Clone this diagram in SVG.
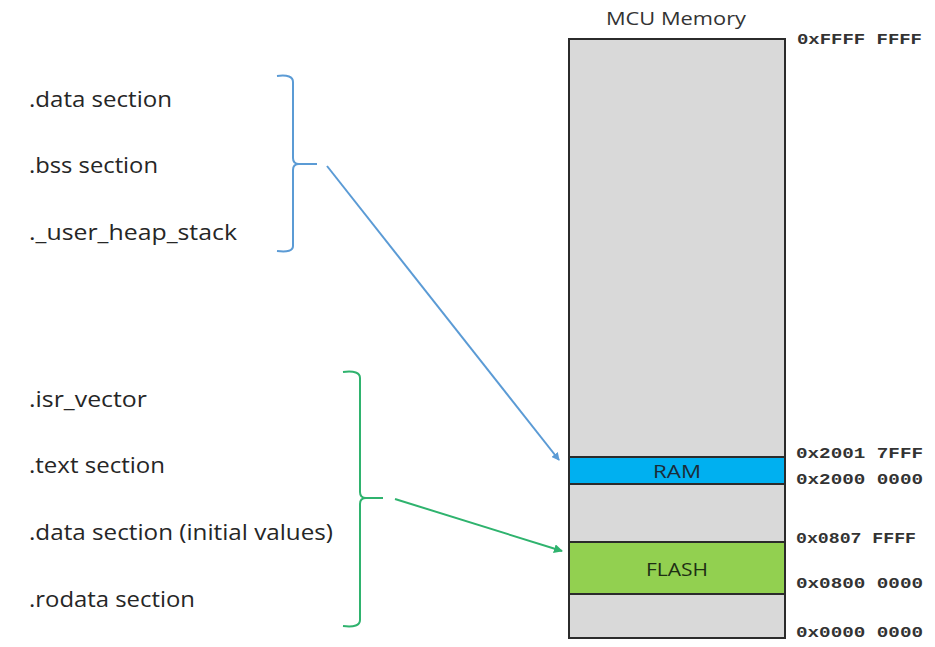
<svg xmlns="http://www.w3.org/2000/svg" width="935" height="647" viewBox="0 0 935 647">
<style>
.lbl{font-family:"Open Sans","Liberation Sans",sans-serif;font-size:21px;fill:#262626}
.addr{font-family:"Liberation Mono","Courier New",monospace;font-size:15px;font-weight:bold;fill:#333}
.mem{stroke:#2b2b2b;stroke-width:2}
.seg{font-family:"Open Sans","Liberation Sans",sans-serif;font-size:19px;fill:#1c2c38;text-anchor:middle}
.blue{stroke:#5b9bd5;fill:none;stroke-width:2}
.green{stroke:#2fb36e;fill:none;stroke-width:2}
</style>
<defs>
<marker id="ab" markerWidth="8" markerHeight="8" refX="7" refY="4" orient="auto" markerUnits="userSpaceOnUse"><path d="M0,0 L8,4 L0,8 z" fill="#5b9bd5"/></marker>
<marker id="ag" markerWidth="9" markerHeight="9" refX="8" refY="4.5" orient="auto" markerUnits="userSpaceOnUse"><path d="M0,0 L9,4.5 L0,9 z" fill="#2fb36e"/></marker>
</defs>
<rect width="935" height="647" fill="#fff"/>
<g id="memory">
<text x="676" y="25" text-anchor="middle" font-family="Open Sans, Liberation Sans, sans-serif" font-size="18" fill="#333" textLength="140" lengthAdjust="spacingAndGlyphs">MCU Memory</text>
<rect class="mem" x="569" y="39" width="216" height="599" fill="#d9d9d9"/>
</g>
<g id="ram">
<rect class="mem" x="569" y="457" width="216" height="27" fill="#00b0f0"/>
<text class="seg" x="677" y="478" textLength="48" lengthAdjust="spacingAndGlyphs">RAM</text>
</g>
<g id="flash">
<rect class="mem" x="569" y="542" width="216" height="52" fill="#92d050"/>
<text class="seg" x="677" y="576" textLength="62" lengthAdjust="spacingAndGlyphs" style="fill:#1e2e14">FLASH</text>
</g>
<g id="addresses">
<text class="addr" x="797" y="44" textLength="125" lengthAdjust="spacingAndGlyphs">0xFFFF FFFF</text>
<text class="addr" x="796" y="458" textLength="127" lengthAdjust="spacingAndGlyphs">0x2001 7FFF</text>
<text class="addr" x="796" y="484" textLength="127" lengthAdjust="spacingAndGlyphs">0x2000 0000</text>
<text class="addr" x="796" y="543" textLength="120" lengthAdjust="spacingAndGlyphs">0x0807 FFFF</text>
<text class="addr" x="796" y="588" textLength="127" lengthAdjust="spacingAndGlyphs">0x0800 0000</text>
<text class="addr" x="796" y="637" textLength="127" lengthAdjust="spacingAndGlyphs">0x0000 0000</text>
</g>
<g id="ram-sections">
<text class="lbl" x="29" y="107" textLength="143" lengthAdjust="spacingAndGlyphs">.data section</text>
<text class="lbl" x="29" y="173" textLength="129" lengthAdjust="spacingAndGlyphs">.bss section</text>
<text class="lbl" x="29" y="240" textLength="208" lengthAdjust="spacingAndGlyphs">._user_heap_stack</text>
<path class="blue" d="M277,76 Q293,74 293,82 L293,158 Q293,164 299,164 L317,164 M299,164 Q293,164 293,170 L293,246 Q293,253 277,251"/>
</g>
<g id="flash-sections">
<text class="lbl" x="29" y="407" textLength="118" lengthAdjust="spacingAndGlyphs">.isr_vector</text>
<text class="lbl" x="29" y="473" textLength="136" lengthAdjust="spacingAndGlyphs">.text section</text>
<text class="lbl" x="29" y="540" textLength="304" lengthAdjust="spacingAndGlyphs">.data section (initial values)</text>
<text class="lbl" x="29" y="607" textLength="166" lengthAdjust="spacingAndGlyphs">.rodata section</text>
<path class="green" d="M343,372 Q360,370 360,378 L360,492 Q360,498 366,498 L383,498 M366,498 Q360,498 360,504 L360,620 Q360,628 343,626"/>
</g>
<g id="connectors">
<line class="blue" x1="327" y1="166" x2="559" y2="460" stroke-width="1.5" marker-end="url(#ab)"/>
<line class="green" x1="395" y1="499" x2="562" y2="551" marker-end="url(#ag)"/>
</g>
</svg>
